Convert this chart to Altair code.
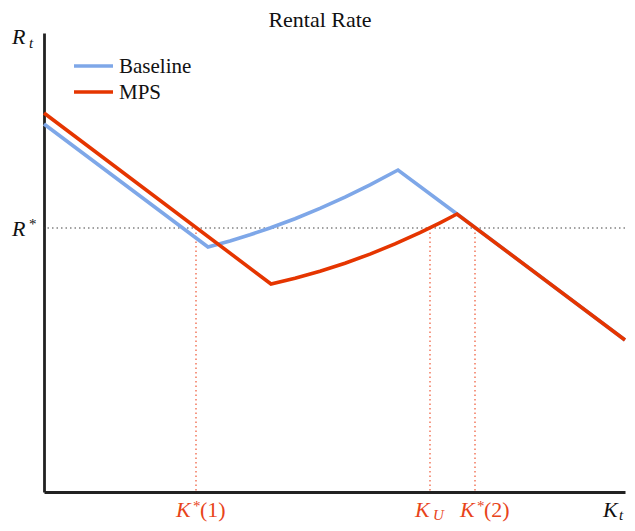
import altair as alt
import pandas as pd

# ---- data (x = capital K_t, y = rental rate R_t) ----
series_names = ["Baseline", "MPS"]
k_baseline = [0, 164, 186, 206, 226, 251, 276, 301, 326, 354, 413, 581]
r_baseline = [368, 245, 251.0, 257.2, 264, 273.3, 283.6, 294.8, 307.1, 322, 278, 152]
k_mps = [0, 227, 251, 276, 301, 326, 351, 376, 396, 413, 581]
r_mps = [379, 208, 213.7, 220.7, 228.7, 237.9, 248.1, 259.4, 269.2, 278, 152]
r_star = 264
k_marks = [152, 386, 431]
k_mark_names = ["K*(1)", "K_U", "K*(2)"]

W, H = 581, 459
XMAX, YMAX = 581, 459
BLUE = "#7ea7e8"
RED = "#e53500"
LABRED = "#e8441a"
FONT = "Liberation Serif"

base_df = pd.DataFrame({"k": k_baseline, "r": r_baseline, "i": range(len(k_baseline)), "series": series_names[0]})
mps_df = pd.DataFrame({"k": k_mps, "r": r_mps, "i": range(len(k_mps)), "series": series_names[1]})
marks_df = pd.DataFrame({"k": k_marks, "r": [r_star] * 3, "zero": [0] * 3, "name": k_mark_names})
rstar_df = pd.DataFrame({"r": [r_star]})

xscale = alt.Scale(domain=[0, XMAX], nice=False, zero=False)
yscale = alt.Scale(domain=[0, YMAX], nice=False, zero=False)
axis_style = dict(domain=True, domainColor="#222222", domainWidth=2.8, ticks=False,
                  labels=False, grid=False, title=None)

xenc = alt.X("k:Q", scale=xscale, axis=alt.Axis(**axis_style))
yenc = alt.Y("r:Q", scale=yscale, axis=alt.Axis(**axis_style))

# R* horizontal dotted
rstar_rule = alt.Chart(rstar_df).mark_rule(color="#444444", strokeWidth=1.2, strokeDash=[1.5, 3]).encode(
    y=alt.Y("r:Q", scale=yscale, axis=alt.Axis(**axis_style))
)
# vertical dotted lines
vrules = alt.Chart(marks_df).mark_rule(color="#ee5533", strokeWidth=1.2, strokeDash=[1.5, 3]).encode(
    x=xenc, y=alt.Y("r:Q", scale=yscale, axis=alt.Axis(**axis_style)), y2="zero:Q"
)

blue_line = alt.Chart(base_df).mark_line(color=BLUE, strokeWidth=3.6).encode(x=xenc, y=yenc, order="i:Q")
red_line = alt.Chart(mps_df).mark_line(color=RED, strokeWidth=3.6).encode(x=xenc, y=yenc, order="i:Q")

layers = [rstar_rule, vrules, blue_line, red_line]

# title
title_df = pd.DataFrame({"t": ["Rental Rate"]})
layers.append(alt.Chart(title_df).mark_text(font=FONT, fontSize=22, align="center", baseline="alphabetic",
                                            color="#111111").encode(
    text="t:N", x=alt.value(276), y=alt.value(-6)))

# legend (manual)
for idx, (name, col) in enumerate(zip(series_names, [BLUE, RED])):
    ldf = pd.DataFrame({"name": [name]})
    yy = 33 + 26 * idx
    layers.append(alt.Chart(ldf).mark_rule(color=col, strokeWidth=3.6).encode(
        x=alt.value(30), x2=alt.value(69), y=alt.value(yy)))
    layers.append(alt.Chart(ldf).mark_text(font=FONT, fontSize=21, align="left", baseline="alphabetic",
                                           color="#111111").encode(
        text="name:N", x=alt.value(75), y=alt.value(yy + 7)))

# axis labels R_t and K_t, R*
def frag(text, x, y, size, style="italic", color="#111111", align="left"):
    d = pd.DataFrame({"t": [text]})
    return alt.Chart(d).mark_text(font=FONT, fontSize=size, fontStyle=style, align=align,
                                  baseline="alphabetic", color=color).encode(
        text="t:N", x=alt.value(x), y=alt.value(y))

layers += [frag("R", -32, 11, 22), frag("t", -15, 15, 15),
           frag("K", 559, 484, 22), frag("t", 575, 487, 15)]

# R* on the y axis, placed through the y scale
rs = alt.Chart(rstar_df)
layers.append(rs.mark_text(font=FONT, fontSize=22, fontStyle="italic", align="left", baseline="alphabetic",
                           dy=8, color="#111111").encode(x=alt.value(-32), y=alt.Y("r:Q", scale=yscale),
                                                         text=alt.value("R")))
layers.append(rs.mark_text(font=FONT, fontSize=15, align="left", baseline="alphabetic",
                           dy=1, color="#111111").encode(x=alt.value(-15), y=alt.Y("r:Q", scale=yscale),
                                                          text=alt.value("*")))

# K labels below the x axis, placed through the x scale
LY = H + 25
def kfrag(i, text, dx, dy, size, style):
    d = marks_df.iloc[[i]]
    return alt.Chart(d).mark_text(font=FONT, fontSize=size, fontStyle=style, align="left",
                                  baseline="alphabetic", dx=dx, dy=dy, color=LABRED).encode(
        x=alt.X("k:Q", scale=xscale), y=alt.value(LY), text=alt.value(text))

layers += [kfrag(0, "K", -20, 0, 22, "italic"), kfrag(0, "*", -3, -6, 15, "normal"),
           kfrag(0, "(1)", 4, 0, 22, "normal"),
           kfrag(1, "K", -15, 0, 22, "italic"), kfrag(1, "U", 3, 3, 15, "italic"),
           kfrag(2, "K", -15, 0, 22, "italic"), kfrag(2, "*", 2, -6, 15, "normal"),
           kfrag(2, "(2)", 9, 0, 22, "normal")]

chart = alt.layer(*layers).properties(
    width=W, height=H,
    autosize=alt.AutoSizeParams(type="none"),
    padding={"left": 36, "top": 25, "right": 2, "bottom": 31},
).configure_view(stroke=None)

chart.save("out.html", embed_options={"renderer": "svg", "actions": False})
